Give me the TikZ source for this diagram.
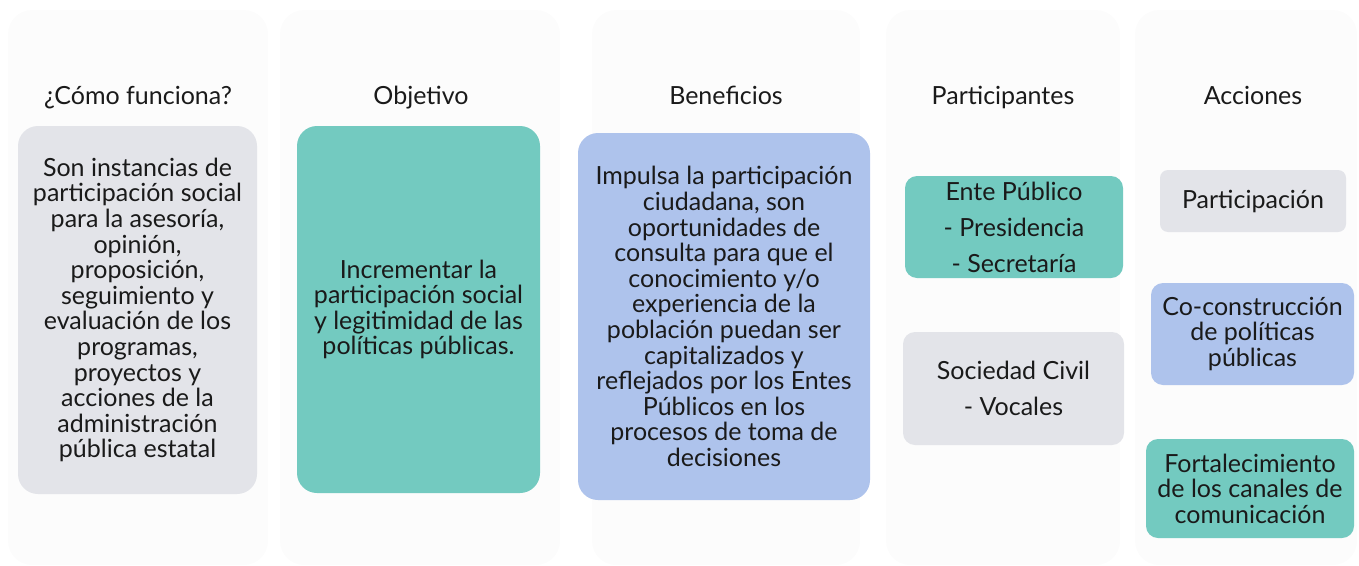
\documentclass[tikz,border=0pt]{standalone}
\usepackage{fontspec}
\setmainfont{Lato}
\definecolor{fondo}{HTML}{FCFCFC}
\definecolor{gris}{HTML}{E3E4E9}
\definecolor{verde}{HTML}{73CAC0}
\definecolor{azul}{HTML}{AEC3EC}
\definecolor{tinta}{HTML}{1A1A1A}
\begin{document}
\begin{tikzpicture}
  [x=1pt, y=-1pt,
   columna/.style={fill=fondo, rounded corners=24pt},
   caja/.style={shape=rectangle, rounded corners=20pt, align=center, inner sep=0pt, text=tinta,
     font=\fontsize{25}{25.6}\selectfont},
   ancha/.style={font=\fontsize{25}{36}\selectfont},
   titulo/.style={anchor=base, text=tinta, font=\fontsize{25}{26}\selectfont}]
  \useasboundingbox (0,0) rectangle (1359,565);
  \fill [columna] (8,10) rectangle (268,565);
  \fill [columna] (280,10) rectangle (560,565);
  \fill [columna] (592,10) rectangle (860,565);
  \fill [columna] (886,10) rectangle (1120,565);
  \fill [columna] (1135,10) rectangle (1357,565);
  \node (t1) [titulo] at (138,104) {¿Cómo funciona?};
  \node (t2) [titulo] at (421,104) {Objetivo};
  \node (t3) [titulo] at (726,104) {Beneficios};
  \node (t4) [titulo] at (1003,104) {Participantes};
  \node (t5) [titulo] at (1253,104) {Acciones};
  \node (como) [caja, fill=gris, minimum width=239pt, minimum height=368pt] at (137.5,310)
    {Son instancias de\\participación social\\para la asesoría,\\opinión,\\proposición,\\seguimiento y\\evaluación de los\\programas,\\proyectos y\\acciones de la\\administración\\pública estatal};
  \node (objetivo) [caja, fill=verde, minimum width=243pt, minimum height=367pt] at (418.5,309.5)
    {Incrementar la\\participación social\\y legitimidad de las\\políticas públicas.};
  \node (beneficio) [caja, fill=azul, minimum width=292pt, minimum height=367pt] at (724,316.5)
    {Impulsa la participación\\ciudadana, son\\oportunidades de\\consulta para que el\\conocimiento y/o\\experiencia de la\\población puedan ser\\capitalizados y\\reflejados por los Entes\\Públicos en los\\procesos de toma de\\decisiones};
  \node (ente) [caja, ancha, fill=verde, rounded corners=12pt, minimum width=218pt, minimum height=102pt] at (1014,227)
    {Ente Público\\- Presidencia\\- Secretaría};
  \node (sociedad) [caja, ancha, fill=gris, rounded corners=12pt, minimum width=221pt, minimum height=113pt] at (1013.5,388.5)
    {Sociedad Civil\\- Vocales};
  \node (partic) [caja, fill=gris, rounded corners=8pt, minimum width=186pt, minimum height=62pt] at (1253,201)
    {Participación};
  \node (cocons) [caja, fill=azul, rounded corners=12pt, minimum width=203pt, minimum height=102pt] at (1252.5,334)
    {Co-construcción\\de políticas\\públicas};
  \node (canales) [caja, fill=verde, rounded corners=12pt, minimum width=208pt, minimum height=99pt] at (1250,488.5)
    {Fortalecimiento\\de los canales de\\comunicación};
\end{tikzpicture}
\end{document}
